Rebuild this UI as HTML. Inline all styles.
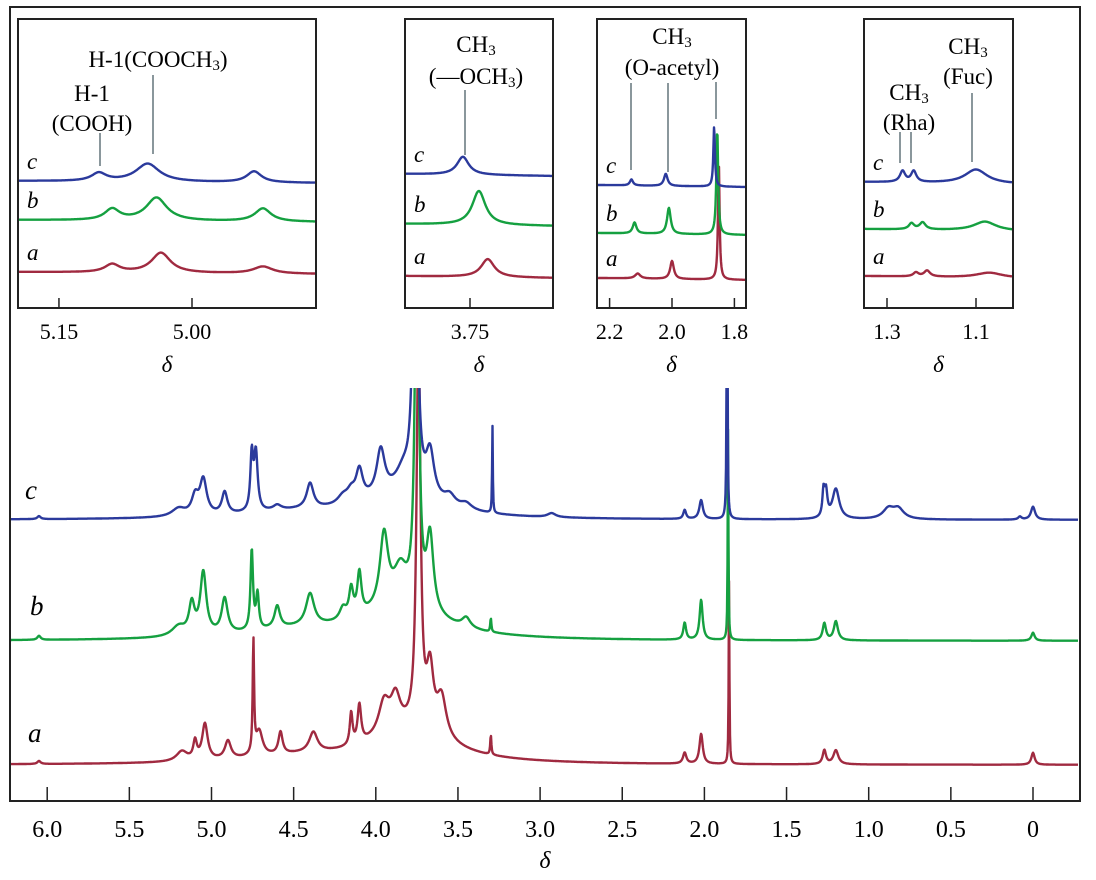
<!DOCTYPE html>
<html><head><meta charset="utf-8">
<style>
body{margin:0;background:#fff;}
svg{display:block;}
svg text{font-family:"Liberation Serif","Times New Roman","DejaVu Serif","Noto Serif CJK SC",serif !important;}
</style></head>
<body>
<svg id="chart" width="1096" height="880" viewBox="0 0 1096 880" style="font-family:'Liberation Serif','Times New Roman',serif">
<defs>
<clipPath id="mainclip"><rect x="10" y="388" width="1070" height="412"/></clipPath>
</defs>
<rect x="10" y="7" width="1070" height="794" fill="none" stroke="#222" stroke-width="2"/>
<g id="main" clip-path="url(#mainclip)"></g>
<g id="axis"></g>
<text x="545" y="868" font-size="24" font-style="italic" text-anchor="middle" style="font-family:'Liberation Serif',serif">δ</text>
<text x="25" y="499" font-size="27" font-style="italic" style="font-family:'Liberation Serif',serif">c</text>
<text x="30" y="615" font-size="27" font-style="italic" style="font-family:'Liberation Serif',serif">b</text>
<text x="28" y="742" font-size="27" font-style="italic" style="font-family:'Liberation Serif',serif">a</text>
<g id="insets"></g>
</svg>
<script>
// ---- data ----
var mainTicks = [6.0,5.5,5.0,4.5,4.0,3.5,3.0,2.5,2.0,1.5,1.0,0.5,0];
var mainTickLabels = ["6.0","5.5","5.0","4.5","4.0","3.5","3.0","2.5","2.0","1.5","1.0","0.5","0"];
var seriesNames = ["c","b","a"];
var seriesColors = ["#2b3a9c","#15a040","#a02a40"];
var seriesBase = [520,641,765];
// peaks: [ppm, intensity, halfwidth]
var peaksC = [[6.05,3,0.012],[5.2,8,0.05],[5.1,18,0.025],[5.05,35,0.025],[4.92,22,0.02],[4.755,55,0.01],[4.73,58,0.013],[4.6,5,0.03],[4.4,25,0.025],[4.2,8,0.04],[4.15,10,0.03],[4.1,30,0.025],[3.97,45,0.03],[3.83,22,0.06],[3.76,400,0.014],[3.67,45,0.03],[3.55,10,0.04],[3.45,6,0.04],[3.29,88,0.0025],[3.85,22,0.3],[4.5,6,0.4],[2.93,4,0.03],[2.12,9,0.01],[2.02,19,0.013],[1.862,400,0.0025],[1.275,25,0.008],[1.26,25,0.01],[1.2,30,0.025],[0.88,10,0.04],[0.82,10,0.04],[0.08,3,0.012],[0.0,13,0.015]];
var peaksB = [[6.05,4,0.012],[5.2,10,0.05],[5.12,30,0.02],[5.05,62,0.022],[4.92,35,0.022],[4.755,80,0.009],[4.72,35,0.01],[4.6,22,0.02],[4.4,32,0.03],[4.2,12,0.025],[4.15,28,0.015],[4.1,42,0.015],[3.95,72,0.03],[3.85,35,0.05],[3.75,400,0.014],[3.67,75,0.025],[3.85,30,0.3],[4.5,8,0.4],[3.45,10,0.03],[3.3,14,0.004],[2.12,17,0.01],[2.02,40,0.011],[1.856,215,0.0025],[1.27,17,0.012],[1.2,19,0.015],[0.0,8,0.012]];
var peaksA = [[6.05,3,0.012],[5.18,10,0.04],[5.1,18,0.013],[5.04,36,0.02],[4.9,18,0.022],[4.745,112,0.005],[4.71,25,0.025],[4.58,22,0.015],[4.38,20,0.03],[4.15,32,0.01],[4.1,38,0.013],[3.95,32,0.04],[3.88,32,0.035],[3.74,400,0.014],[3.67,60,0.025],[3.6,40,0.035],[3.8,32,0.3],[4.5,6,0.4],[3.3,20,0.004],[2.12,11,0.012],[2.02,30,0.012],[1.85,185,0.0025],[1.27,14,0.012],[1.2,14,0.018],[0.0,12,0.012]];
var mainPeaks = [peaksC,peaksB,peaksA];

// insets data
var inset1Peaks = [
 [[5.105,8,0.01],[5.05,18,0.016],[4.93,11,0.01]],
 [[5.09,11,0.01],[5.04,23,0.014],[4.92,13,0.011]],
 [[5.09,8,0.01],[5.035,20,0.013],[4.92,7,0.013]]];
var inset1Base = [181,220,272];
var inset2Peaks = [[[3.758,18,0.008]],[[3.74,34,0.009]],[[3.73,18,0.009]]];
var inset2Base = [174,224,276];
var inset3Peaks = [
 [[2.13,6,0.006],[2.02,12,0.007],[1.865,60,0.003]],
 [[2.12,11,0.007],[2.01,26,0.007],[1.855,105,0.0035]],
 [[2.11,5,0.01],[2.0,18,0.007],[1.85,118,0.003]]];
var inset3Base = [185,233,278];
var inset4Peaks = [
 [[1.265,11,0.007],[1.24,11,0.007],[1.1,14,0.03]],
 [[1.245,6,0.007],[1.22,7,0.008],[1.08,9,0.03]],
 [[1.235,4,0.007],[1.21,6,0.008],[1.07,5,0.035]]];
var inset4Base = [182,229,276];

var NS="http://www.w3.org/2000/svg";
var SERIF="font-family:'Liberation Serif','Times New Roman',serif";
function el(tag,attrs,parent){var e=document.createElementNS(NS,tag);for(var k in attrs)e.setAttribute(k,attrs[k]);if(tag==="text")e.setAttribute("style",SERIF);parent.appendChild(e);return e;}
function lor(peaks,p){var s=0;for(var i=0;i<peaks.length;i++){var d=(p-peaks[i][0])/peaks[i][2];s+=peaks[i][1]/(1+d*d);}return s;}
function trace(parent,peaks,base,xOfPpm,ppmOfX,x0,x1,color,name,tilt){
  var d="";
  for(var x=x0;x<=x1;x+=0.5){var p=ppmOfX(x);var y=base-lor(peaks,p)+(tilt?tilt*(x-x0)/(x1-x0):0);d+=(d?"L":"M")+x.toFixed(1)+" "+y.toFixed(1);}
  var path=el("path",{d:d,fill:"none",stroke:color,"stroke-width":"2.4","stroke-linejoin":"round"},parent);
  
  
}
function mx(p){return 1033-p*164.3;}
function mp(x){return (1033-x)/164.3;}
var main=document.getElementById("main");
for(var s=2;s>=0;s--){
  trace(main,mainPeaks[s],seriesBase[s],mx,mp,11,1078,seriesColors[s],"spectrum-"+seriesNames[s],0);
}
var axis=document.getElementById("axis");
for(var i=0;i<mainTicks.length;i++){
  var x=mx(mainTicks[i]);
  var t=el("line",{x1:x,x2:x,y1:787,y2:801,stroke:"#222","stroke-width":"1.5"},axis);
  
  
  var lb=el("text",{x:x,y:837,"font-size":"24","text-anchor":"middle"},axis);
  lb.textContent=mainTickLabels[i];
  
  
}

var insets=document.getElementById("insets");
function inset(cfg){
  var g=el("g",{},insets);
  
  
  var cid="clip-"+cfg.name;
  var cp=el("clipPath",{id:cid},g);el("rect",{x:cfg.x0,y:cfg.y0,width:cfg.x1-cfg.x0,height:cfg.y1-cfg.y0},cp);
  var gg=el("g",{"clip-path":"url(#"+cid+")"},g);
  var xo=function(p){return cfg.refX+(cfg.refP-p)*cfg.scale;};
  var po=function(x){return cfg.refP-(x-cfg.refX)/cfg.scale;};
  for(var s=2;s>=0;s--) trace(gg,cfg.peaks[s],cfg.base[s],xo,po,cfg.x0+1,cfg.x1-1,seriesColors[s],cfg.name+"-trace-"+seriesNames[s],2);
  var r=el("rect",{x:cfg.x0,y:cfg.y0,width:cfg.x1-cfg.x0,height:cfg.y1-cfg.y0,fill:"none",stroke:"#222","stroke-width":"2"},g);
  
  
  for(var i=0;i<cfg.ticks.length;i++){
    var x=xo(cfg.ticks[i]);
    el("line",{x1:x,x2:x,y1:cfg.y1-10,y2:cfg.y1,stroke:"#222","stroke-width":"1.5"},g);
    var lb=el("text",{x:x,y:cfg.y1+31,"font-size":"22","text-anchor":"middle"},g);
    lb.textContent=cfg.tickLabels[i];
    
    
  }
  var dl=el("text",{x:(cfg.x0+cfg.x1)/2,y:cfg.y1+64,"font-size":"23","font-style":"italic","text-anchor":"middle"},g);
  dl.textContent="δ";
  for(var s=0;s<3;s++){var l=el("text",{x:cfg.x0+9,y:cfg.base[s]-12,"font-size":"23","font-style":"italic"},g);l.textContent=seriesNames[s];}
  for(var i=0;i<cfg.lines.length;i++){var L=cfg.lines[i];el("line",{x1:L[0],x2:L[0],y1:L[1],y2:L[2],stroke:"#8a979c","stroke-width":"2"},g);}
  for(var i=0;i<cfg.texts.length;i++){var T=cfg.texts[i];var tx=el("text",{x:T[0],y:T[1],"font-size":"23","text-anchor":"middle"},g);tx.innerHTML=T[2];
    
    }
}
inset({name:"inset-h1",x0:18,x1:316,y0:19,y1:308,refP:5.0,refX:192,scale:887,peaks:inset1Peaks,base:inset1Base,ticks:[5.15,5.0],tickLabels:["5.15","5.00"],
 lines:[[153,75,154],[100,133,166]],
 texts:[[158,67,'H-1(COOCH<tspan font-size="15" dy="3">3</tspan><tspan dy="-3">)</tspan>'],[92,101,'H-1'],[92,131,'(COOH)']]});
inset({name:"inset-och3",x0:405,x1:553,y0:19,y1:308,refP:3.75,refX:470,scale:887,peaks:inset2Peaks,base:inset2Base,ticks:[3.75],tickLabels:["3.75"],
 lines:[[465,90,155]],
 texts:[[476,52,'CH<tspan font-size="15" dy="3">3</tspan>'],[476,84,'(—OCH<tspan font-size="15" dy="3">3</tspan><tspan dy="-3">)</tspan>']]});
inset({name:"inset-acetyl",x0:597,x1:746,y0:19,y1:308,refP:2.0,refX:672,scale:312,peaks:inset3Peaks,base:inset3Base,ticks:[2.2,2.0,1.8],tickLabels:["2.2","2.0","1.8"],
 lines:[[631,83,170],[668,83,172],[716,82,119]],
 texts:[[672,44,'CH<tspan font-size="15" dy="3">3</tspan>'],[672,75,'(O-acetyl)']]});
inset({name:"inset-methyl",x0:864,x1:1013,y0:19,y1:308,refP:1.3,refX:887,scale:445,peaks:inset4Peaks,base:inset4Base,ticks:[1.3,1.1],tickLabels:["1.3","1.1"],
 lines:[[900,132,163],[911,132,163],[972,93,162]],
 texts:[[968,54,'CH<tspan font-size="15" dy="3">3</tspan>'],[968,84,'(Fuc)'],[909,100,'CH<tspan font-size="15" dy="3">3</tspan>'],[909,130,'(Rha)']]});
</script>
</body></html>
